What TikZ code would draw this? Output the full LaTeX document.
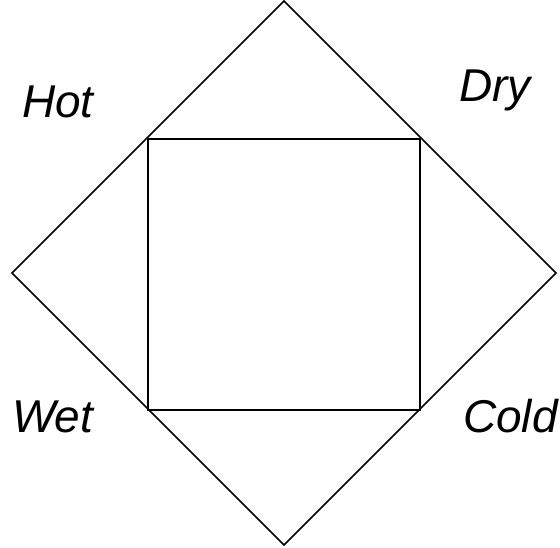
\documentclass[tikz,border=0pt]{standalone}
\usepackage{fontspec}
\setmainfont{Liberation Sans}
\begin{document}
\begin{tikzpicture}[x=1pt,y=1pt,
  shape line/.style={draw=black,line width=1.5pt,line join=miter},
  lbl/.style={anchor=base west,inner sep=0pt,font=\fontsize{46}{50}\selectfont\itshape}]
\useasboundingbox (0,0) rectangle (560,548);
\coordinate (T) at (284,547);
\coordinate (R) at (556,275);
\coordinate (B) at (284,3);
\coordinate (L) at (12,275);
\draw[shape line] (T) -- (R) -- (B) -- (L) -- cycle;
\coordinate (S1) at (148,409);
\coordinate (S2) at (420,409);
\coordinate (S3) at (420,138);
\coordinate (S4) at (148,138);
\draw[shape line] (S1) -- (S2) -- (S3) -- (S4) -- cycle;
\node[lbl] (hot) at (22,430) {Hot};
\node[lbl] (dry) at (459,446) {Dry};
\node[lbl] (wet) at (12,115) {Wet};
\node[lbl] (cold) at (463,115) {Cold};
\end{tikzpicture}
\end{document}
